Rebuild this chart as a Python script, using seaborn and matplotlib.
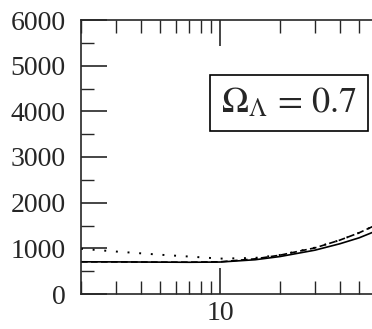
import numpy as np
import pandas as pd
import seaborn as sns
import matplotlib.pyplot as plt
from matplotlib.ticker import FixedLocator, NullFormatter

# valeurs
x_vals = [2, 3, 5, 7, 10, 15, 20, 30, 40, 50, 60]
solid = [705, 703, 698, 695, 700, 750, 820, 960, 1100, 1230, 1370]
dashed = [705, 703, 698, 697, 705, 770, 850, 1010, 1180, 1340, 1500]
dotted = [990, 930, 860, 820, 775, 790, 855, 1015, 1180, 1340, 1500]

df = pd.DataFrame({'x': x_vals * 3,
                   'y': solid + dashed + dotted,
                   'modele': ['a'] * 11 + ['b'] * 11 + ['c'] * 11})

sns.set_style('ticks')
plt.rcParams['font.family'] = ['Liberation Serif', 'DejaVu Serif']
plt.rcParams['mathtext.fontset'] = 'stix'

fig = plt.figure(figsize=(3.72, 3.29), dpi=100)
ax = fig.add_axes([81 / 372, 35 / 329, 338 / 372, 274 / 329])

styles = {'a': '-', 'b': (0, (4, 2)), 'c': (0, (1, 5))}
for key, ls in styles.items():
    sub = df[df['modele'] == key]
    sns.lineplot(data=sub, x='x', y='y', ax=ax, color='black',
                 lw=1.4 if key == 'c' else 1.2, linestyle=ls, legend=False)

ax.set_xscale('log')
ax.set_xlim(2, 100)
ax.set_ylim(0, 6000)
ax.set_xlabel('')
ax.set_ylabel('')

ax.xaxis.set_major_locator(FixedLocator([10]))
ax.set_xticklabels(['10'])
ax.xaxis.set_minor_locator(FixedLocator([2, 3, 4, 5, 6, 7, 8, 9, 20, 30, 40, 50, 60, 70, 80, 90]))
ax.xaxis.set_minor_formatter(NullFormatter())
ax.set_yticks(range(0, 6001, 1000))
ax.set_yticks(range(500, 6000, 1000), minor=True)

for s in ax.spines.values():
    s.set_linewidth(1.2)
ax.tick_params(which='major', direction='in', length=18.5, width=1.2,
               top=True, right=True, labelsize=20)
ax.tick_params(which='minor', direction='in', length=9.5, width=1.0,
               top=True, right=True)
ax.tick_params(axis='y', pad=11)
ax.tick_params(axis='x', pad=5)

ax.text(0.616, 0.697, r'$\Omega_\Lambda\,=\,0.7$', transform=ax.transAxes,
        fontsize=26, ha='center', va='center',
        bbox=dict(boxstyle='square,pad=0.3', fc='white', ec='black', lw=1.2))

fig.savefig('out.png', dpi=100)
